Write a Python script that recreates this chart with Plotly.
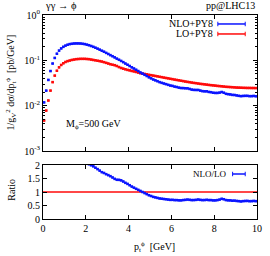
import plotly.graph_objects as go

# bin edges 0..10 GeV in 0.1 GeV steps -> centres
bin_edges = [i / 10 for i in range(101)]
pt = [(bin_edges[i] + bin_edges[i + 1]) / 2 for i in range(100)]

nlo_py8 = [
    0.0118, 0.0215, 0.037, 0.058, 0.085, 0.113, 0.140, 0.164, 0.183, 0.199,
    0.211, 0.221, 0.228, 0.232, 0.235, 0.236, 0.236, 0.235, 0.232, 0.228,
    0.222, 0.215, 0.207, 0.199, 0.190, 0.181, 0.172, 0.163, 0.155, 0.146,
    0.138, 0.130, 0.123, 0.116, 0.109, 0.103, 0.097, 0.091, 0.085, 0.080,
    0.075, 0.070, 0.066, 0.062, 0.058, 0.054, 0.0510, 0.0480, 0.0451, 0.0422,
    0.0400, 0.0378, 0.0362, 0.0346, 0.0330, 0.0319, 0.0308, 0.0298, 0.0288, 0.0278,
    0.0273, 0.0263, 0.0258, 0.0250, 0.0245, 0.0244, 0.0242, 0.0241, 0.0234, 0.0226,
    0.0223, 0.0222, 0.0222, 0.0215, 0.0209, 0.0207, 0.0207, 0.0201, 0.0198, 0.0193,
    0.0191, 0.0191, 0.0194, 0.0200, 0.0193, 0.0183, 0.0179, 0.0177, 0.0173, 0.0172,
    0.0168, 0.0165, 0.0162, 0.0164, 0.0165, 0.0165, 0.0162, 0.0162, 0.0164, 0.0161,
]

lo_py8 = [
    0.0047, 0.0078, 0.013, 0.0215, 0.033, 0.046, 0.059, 0.070, 0.079, 0.086,
    0.092, 0.096, 0.099, 0.102, 0.104, 0.106, 0.107, 0.108, 0.108, 0.108,
    0.107, 0.106, 0.104, 0.102, 0.100, 0.098, 0.096, 0.094, 0.091, 0.088,
    0.085, 0.082, 0.080, 0.078, 0.075, 0.071, 0.0678, 0.0655, 0.0634, 0.0615,
    0.0600, 0.0583, 0.0569, 0.0554, 0.0537, 0.0519, 0.0510, 0.0500, 0.0490, 0.0480,
    0.0470, 0.0461, 0.0452, 0.0443, 0.0434, 0.0425, 0.0416, 0.0408, 0.0400, 0.0392,
    0.0384, 0.0376, 0.0369, 0.0362, 0.0355, 0.0348, 0.0341, 0.0335, 0.0329, 0.0323,
    0.0318, 0.0313, 0.0308, 0.0303, 0.0299, 0.0295, 0.0291, 0.0287, 0.0283, 0.0280,
    0.0277, 0.0273, 0.0270, 0.0267, 0.0264, 0.0261, 0.0259, 0.0257, 0.0255, 0.0253,
    0.0251, 0.0250, 0.0249, 0.0248, 0.0247, 0.0246, 0.0246, 0.0245, 0.0245, 0.0244,
]

ratio = [n / l for n, l in zip(nlo_py8, lo_py8)]

main_tickvals = [1e-3, 1e-2, 1e-1, 1]
main_ticktext = ["10<sup>-3</sup>", "10<sup>-2</sup>", "10<sup>-1</sup>", "10<sup>0</sup>"]
minor_vals = [m * 10 ** e for e in (-3, -2, -1) for m in range(2, 10)]
ratio_ticks = [0, 0.5, 1, 1.5, 2]
x_ticks = [0, 2, 4, 6, 8, 10]

BLUE = "#0a14ff"
RED = "#ff0a0a"
FONT = "Liberation Serif"

fig = go.Figure()
half = [0.05] * len(pt)
fig.add_trace(go.Scatter(x=pt, y=lo_py8, mode="markers", xaxis="x", yaxis="y",
                         marker=dict(symbol="square", size=2.6, color=RED, line=dict(width=0)),
                         error_x=dict(type="data", array=half, width=0, thickness=1.6, color=RED),
                         showlegend=False, cliponaxis=True, hoverinfo="skip"))
fig.add_trace(go.Scatter(x=pt, y=nlo_py8, mode="markers", xaxis="x", yaxis="y",
                         marker=dict(symbol="square", size=2.6, color=BLUE, line=dict(width=0)),
                         error_x=dict(type="data", array=half, width=0, thickness=1.6, color=BLUE),
                         showlegend=False, cliponaxis=True, hoverinfo="skip"))
fig.add_trace(go.Scatter(x=[0, 10], y=[1, 1], mode="lines", xaxis="x2", yaxis="y2",
                         line=dict(color=RED, width=1.5), showlegend=False, hoverinfo="skip"))
fig.add_trace(go.Scatter(x=pt, y=ratio, mode="markers", xaxis="x2", yaxis="y2",
                         marker=dict(symbol="square", size=2.6, color=BLUE, line=dict(width=0)),
                         error_x=dict(type="data", array=half, width=0, thickness=1.6, color=BLUE),
                         showlegend=False, cliponaxis=True, hoverinfo="skip"))

axis_common = dict(showline=True, linecolor="black", linewidth=1, mirror="allticks",
                   ticks="inside", ticklen=4, tickcolor="black", showgrid=False,
                   zeroline=False, tickfont=dict(family=FONT, size=10, color="black"))

fig.update_layout(
    width=270, height=256,
    margin=dict(l=43, r=8, t=15, b=37),
    paper_bgcolor="white", plot_bgcolor="white",
    font=dict(family=FONT, size=10, color="black"),
    hovermode=False,
    xaxis=dict(domain=[0, 1], range=[0, 10], tickvals=x_ticks, showticklabels=False,
               anchor="y", **axis_common),
    yaxis=dict(domain=[68 / 204, 1], type="log", range=[-3, 0], tickmode="array",
               tickvals=main_tickvals, ticktext=main_ticktext, anchor="x",
               minor=dict(tickmode="array", tickvals=minor_vals, ticks="inside",
                          ticklen=2, tickcolor="black"),
               **axis_common),
    xaxis2=dict(domain=[0, 1], range=[0, 10], tickvals=x_ticks, anchor="y2", **axis_common),
    yaxis2=dict(domain=[0, 54 / 204], range=[0, 2], tickvals=ratio_ticks,
                ticktext=["0", "0.5", "1", "1.5", "2"], anchor="x2", **axis_common),
)

ann = [
    dict(text="γγ → ϕ", x=0.0, y=1.045, xanchor="left", yanchor="middle", font=dict(size=10.5)),
    dict(text="pp@LHC13", x=1.0, y=1.045, xanchor="right", yanchor="middle", font=dict(size=10)),
    dict(text="M<sub>ϕ</sub>=500 GeV", x=0.237, y=0.461, xanchor="center", yanchor="middle",
         font=dict(size=10)),
    dict(text="NLO+PY8", x=0.804, y=0.956, xanchor="right", yanchor="middle", font=dict(size=10)),
    dict(text="LO+PY8", x=0.804, y=0.907, xanchor="right", yanchor="middle", font=dict(size=10)),
    dict(text="NLO/LO", x=0.863, y=0.2206, xanchor="right", yanchor="middle", font=dict(size=9)),
    dict(text="1/g<sub>V</sub><sup>2</sup> dσ/dp<sub>t</sub><sup>ϕ</sup>  [pb/GeV]",
         x=-0.151, y=0.667, textangle=-90, xanchor="center", yanchor="middle", font=dict(size=10)),
    dict(text="Ratio", x=-0.151, y=0.142, textangle=-90, xanchor="center", yanchor="middle",
         font=dict(size=10)),
    dict(text="p<sub>t</sub><sup>ϕ</sup>  [GeV]", x=0.52, y=-0.137, xanchor="center",
         yanchor="middle", font=dict(size=10)),
]
for a in ann:
    a.update(xref="paper", yref="paper", showarrow=False)
fig.update_layout(annotations=ann)

shapes = []
for (y, col, x0, x1) in [(0.956, BLUE, 0.817, 0.945), (0.907, RED, 0.817, 0.945),
                         (0.2206, BLUE, 0.886, 0.945)]:
    shapes.append(dict(type="line", xref="paper", yref="paper", x0=x0, x1=x1, y0=y, y1=y,
                       line=dict(color=col, width=1.5)))
    for xx in (x0, x1):
        shapes.append(dict(type="line", xref="paper", yref="paper", x0=xx, x1=xx,
                           y0=y - 0.011, y1=y + 0.011, line=dict(color=col, width=1)))
fig.update_layout(shapes=shapes)

fig.write_html("out.html", config={"displayModeBar": False, "staticPlot": True},
               post_script="document.body.style.margin='0';document.body.style.overflow='hidden';")
